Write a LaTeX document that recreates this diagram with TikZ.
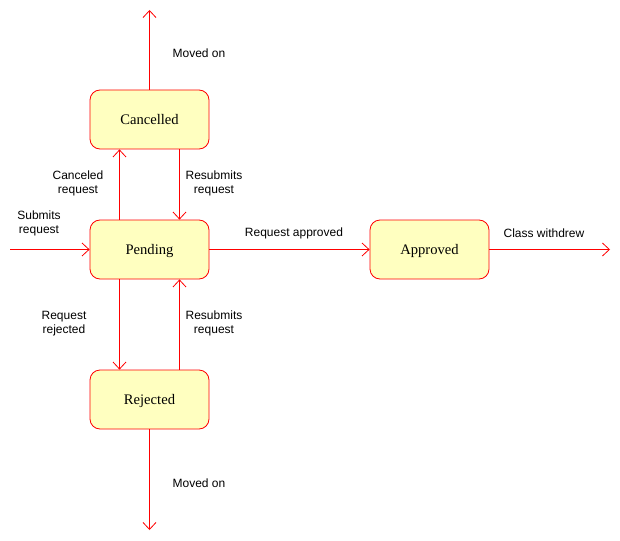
\documentclass[tikz,border=0pt]{standalone}
\usepackage{fontspec}
\setmainfont{Liberation Serif}
\setsansfont{Liberation Sans}
\usetikzlibrary{arrows.meta}
\definecolor{statefill}{HTML}{FFFFC0}
\definecolor{stateline}{HTML}{FF0000}
\begin{document}
\begin{tikzpicture}[x=1pt, y=-1pt,
    state/.style={draw=stateline, fill=statefill, rounded corners=10pt, line width=0.8pt,
      minimum width=119pt, minimum height=59pt, text height=10pt, text depth=0pt,
      font=\fontsize{14.6}{16}\selectfont},
    trans/.style={draw=stateline, line width=0.8pt, -{Straight Barb[length=7pt, width=13pt]}},
    lbl/.style={font=\sffamily\fontsize{12}{14}\selectfont, align=center}]
        \fill[white] (0,0) rectangle (620,540);
        \useasboundingbox (0,0) rectangle (620,540);

        \node[state] (canc) at (149.5,119.5) {Cancelled};
        \node[state] (pend) at (149.5,249.5) {Pending};
        \node[state] (appr) at (429.5,249.5) {Approved};
        \node[state] (rej) at (149.5,399.5) {Rejected};
        \coordinate (top) at (149.5,10);
        \coordinate (bot) at (149.5,530);
        \coordinate (start) at (10,249.5);
        \coordinate (exit) at (610,249.5);

        \draw[trans] (canc) -- (top);
        \draw[trans] ([xshift=-30pt]pend.north) -- ([xshift=-30pt]canc.south);
        \draw[trans] ([xshift=30pt]canc.south) -- ([xshift=30pt]pend.north);
        \draw[trans] (start) -- (pend);
        \draw[trans] (pend) -- (appr);
        \draw[trans] (appr) -- (exit);
        \draw[trans] ([xshift=-30pt]pend.south) -- ([xshift=-30pt]rej.north);
        \draw[trans] ([xshift=30pt]rej.north) -- ([xshift=30pt]pend.south);
        \draw[trans] (rej) -- (bot);

        \node[lbl] (l1) at (199,53) {Moved on};
        \node[lbl] (l2) at (78,183.5) {Canceled\\request};
        \node[lbl] (l3) at (214,183.5) {Resubmits\\request};
        \node[lbl] (l4) at (39,223.5) {Submits\\request};
        \node[lbl] (l5) at (294,233.5) {Request approved};
        \node[lbl] (l6) at (544,233.5) {Class withdrew};
        \node[lbl] (l7) at (64,323.5) {Request\\rejected};
        \node[lbl] (l8) at (214,323.5) {Resubmits\\request};
        \node[lbl] (l9) at (199,483.5) {Moved on};
      \end{tikzpicture}
\end{document}
